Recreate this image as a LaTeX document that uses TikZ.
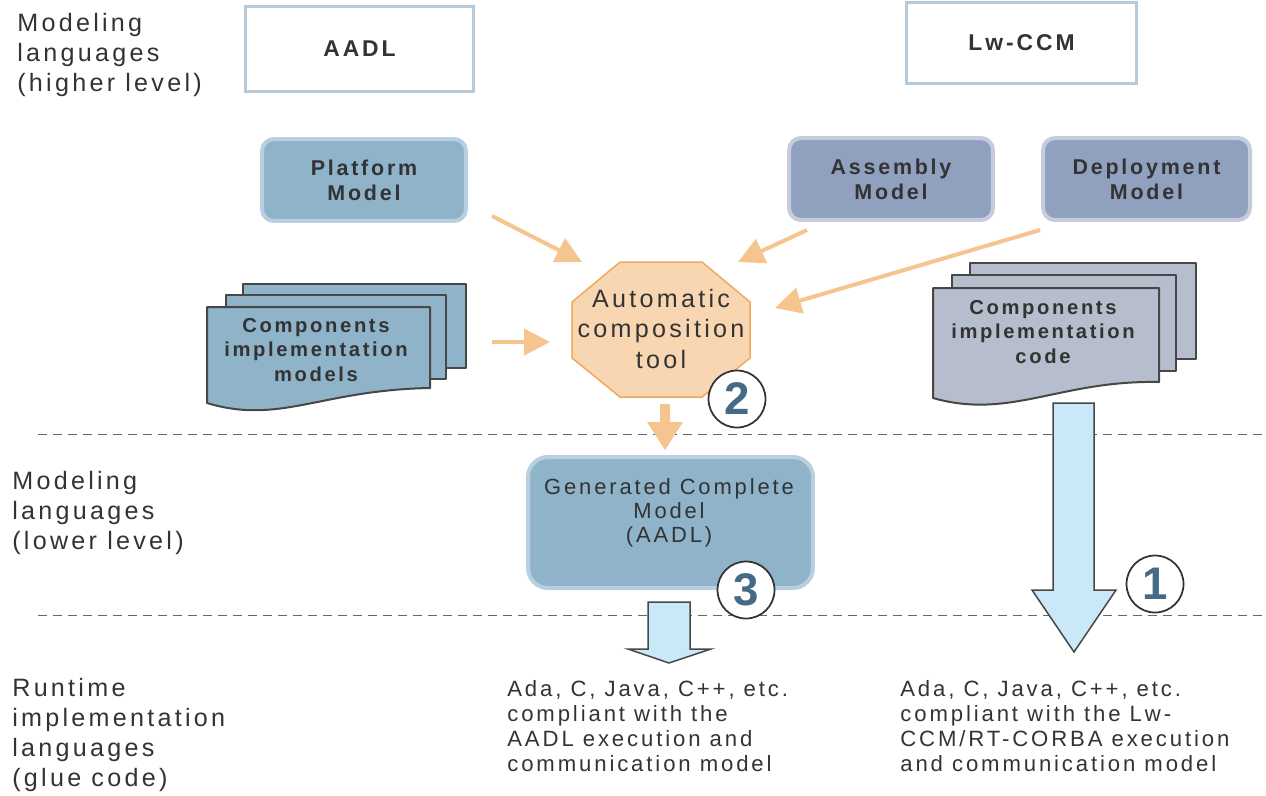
\documentclass[tikz,border=0pt]{standalone}
\usepackage{fontspec}
\setmainfont{Liberation Sans}[LetterSpace=13]
\usetikzlibrary{arrows.meta}

\definecolor{txtgray}{HTML}{333333}
\definecolor{hibord}{HTML}{B5CADB}
\definecolor{platfill}{HTML}{8FB3C9}
\definecolor{platbord}{HTML}{B7CFE0}
\definecolor{asmfill}{HTML}{8FA1BF}
\definecolor{asmbord}{HTML}{C4CCDD}
\definecolor{codefill}{HTML}{B6BDCC}
\definecolor{toolfill}{HTML}{F8D6B1}
\definecolor{toolbord}{HTML}{F0A85C}
\definecolor{feedcol}{HTML}{F6C48F}
\definecolor{outcol}{HTML}{C9E9F8}
\definecolor{numcol}{HTML}{456A86}

\begin{document}
\begin{tikzpicture}[x=0.02cm,y=-0.02cm,
	lvl/.style={anchor=west,align=left,inner sep=0,text=txtgray,font=\fontsize{14.3}{17.1}\selectfont},
	codetxt/.style={anchor=west,align=left,inner sep=0,text=txtgray,font=\fontsize{12.6}{14.2}\selectfont},
	langbox/.style={draw=hibord,line width=0.06cm,fill=white,text=txtgray,font=\bfseries\fontsize{13}{15}\selectfont},
	modelbox/.style={draw=platbord,line width=0.08cm,fill=platfill,rounded corners=0.24cm,minimum width=4.08cm,minimum height=1.64cm,align=center,text=txtgray,font=\bfseries\fontsize{12.2}{14.2}\selectfont},
	ccmbox/.style={modelbox,draw=asmbord,fill=asmfill},
	doc/.style={draw=txtgray!90,line width=0.04cm,line join=round},
	doctxt/.style={align=center,inner sep=0,text=txtgray,font=\bfseries\fontsize{11.5}{13.7}\selectfont},
	feed/.style={draw=feedcol,line width=0.08cm,-{Triangle[length=0.52cm,width=0.52cm]}},
	outarrow/.style={draw=txtgray!90,line width=0.03cm,fill=outcol,line join=miter},
	num/.style={circle,draw=txtgray,line width=0.035cm,fill=white,minimum size=1.14cm,inner sep=0,text=numcol,font=\bfseries\fontsize{26}{26}\selectfont}]

\useasboundingbox (0,0) rectangle (1266,795);

	\draw [gray!80!black,dash pattern=on 0.18cm off 0.12cm] (38,434)--(1266,434);%upper border
	\draw [gray!80!black,dash pattern=on 0.18cm off 0.12cm] (38,615)--(1266,615);%lower border

	\node [lvl] (lvlhigh) at (17,55) {Modeling\\languages\\(higher level)};
	\node [lvl] (lvllow) at (12,513) {Modeling\\languages\\(lower level)};
	\node [lvl] (lvlrun) at (12,735) {Runtime\\implementation\\languages\\(glue code)};

	\node [langbox,minimum width=4.58cm,minimum height=1.72cm] (aadl) at (359.5,49) {AADL};
	\node [langbox,minimum width=4.62cm,minimum height=1.64cm] (lwccm) at (1021.5,43) {Lw-CCM};

	\node [modelbox] (platform) at (364,180) {Platform\\Model};
	\node [ccmbox] (assembly) at (891,179) {Assembly\\Model};
	\node [ccmbox,minimum width=4.14cm] (deploy) at (1146.5,179) {Deployment\\Model};

	\draw [doc,fill=platfill] (243,284) rectangle (466,368);%back sheet
	\draw [doc,fill=platfill] (226,295) rectangle (446,379);
	\draw [doc,fill=platfill] (207,307)--(430,307)--(430,388) .. controls (320,390) and (280,425) .. (207,403)--cycle;
	\node [doctxt] (cimodels) at (316,350) {Components\\implementation\\models};

	\draw [doc,fill=codefill] (970,263) rectangle (1196,359);%back sheet
	\draw [doc,fill=codefill] (952,275) rectangle (1176,371);
	\draw [doc,fill=codefill] (933,288)--(1159,288)--(1159,382) .. controls (1060,380) and (1010,420) .. (933,398)--cycle;
	\node [doctxt] (cicode) at (1043,332) {Components\\implementation\\code};

	\draw [draw=toolbord,line width=0.03cm,fill=toolfill] (620,262)--(702,262)--(750,302)--(750,358)--(702,397)--(620,397)--(572,358)--(572,302)--cycle;%octagon
	\node [align=center,inner sep=0,text=txtgray,font=\fontsize{14.3}{17.1}\selectfont] (tool) at (661,329) {Automatic\\composition\\tool};

	\coordinate (pfout) at (492,216);
	\coordinate (pfin) at (582,262);
	\coordinate (asout) at (807,230);
	\coordinate (asin) at (738,262);
	\coordinate (dpout) at (1040,230);
	\coordinate (dpin) at (775,308);
	\coordinate (cmout) at (492,342);
	\coordinate (cmin) at (550,342);
	\draw [feed] (pfout)--(pfin);
	\draw [feed] (asout)--(asin);
	\draw [feed] (dpout)--(dpin);
	\draw [feed] (cmout)--(cmin);

	\fill [feedcol] (660,404)--(670,404)--(670,422)--(683,422)--(665,450)--(647,422)--(660,422)--cycle;%tool output

	\node [modelbox,rounded corners=0.4cm,minimum width=5.7cm,minimum height=2.62cm] (gen) at (670.5,522.5) {};
	\node [align=center,inner sep=0,text=txtgray,font=\fontsize{12.5}{13.7}\selectfont] (gentext) at (669,513) {Generated Complete\\Model\\(AADL)};

	\draw [outarrow] (1053,403)--(1094,403)--(1094,590)--(1116,590)--(1074,652)--(1032,590)--(1053,590)--cycle;%Lw-CCM path
	\draw [outarrow] (648,602)--(690,602)--(690,649)--(711,649)--(669,663)--(628,649)--(648,649)--cycle;%AADL path

	\node [num] (n2) at (737,399) {2};
	\node [num] (n3) at (746,590) {3};
	\node [num] (n1) at (1155,584) {1};

	\node [codetxt] (aadlcode) at (507,726) {Ada, C, Java, C++, etc.\\compliant with the\\AADL execution and\\communication model};
	\node [codetxt] (ccmcode) at (900,726) {Ada, C, Java, C++, etc.\\compliant with the Lw-\\CCM/RT-CORBA execution\\and communication model};
\end{tikzpicture}
\end{document}
